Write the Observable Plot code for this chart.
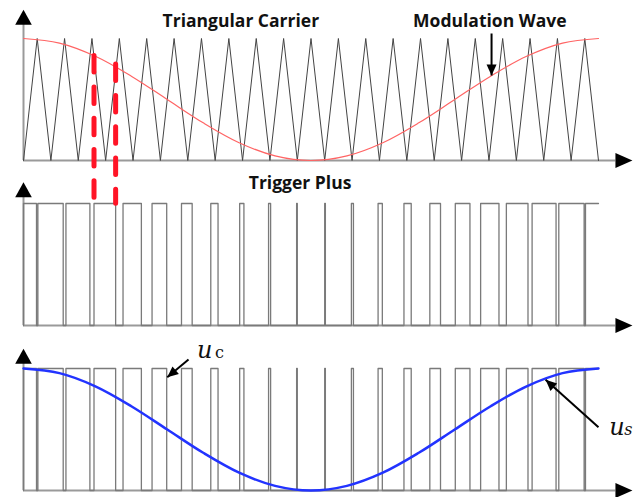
<!DOCTYPE html>
<html><head><meta charset="utf-8">
<script src="https://cdn.jsdelivr.net/npm/d3@7"></script>
<script src="https://cdn.jsdelivr.net/npm/@observablehq/plot@0.6"></script>
<style>
html,body{margin:0;padding:0;background:#fff;}
#wrap{position:relative;width:633px;height:497px;overflow:hidden;background:#fff;}
#wrap svg{position:absolute;left:0;overflow:visible;}
</style></head><body><div id="wrap"></div>
<script>
// ---------- data ----------
// triangular carrier: 21 periods, vertex levels (valley 0, peak 1)
const carrier = [0,1,0,1,0,1,0,1,0,1,0,1,0,1,0,1,0,1,0,1,0,1,0,1,0,1,0,1,0,1,0,1,0,1,0,1,0,1,0,1,0,1,0];
// modulation wave samples (normalised 0..1), one per 1/16 of the span
const modT = [0,0.0625,0.125,0.1875,0.25,0.3125,0.375,0.4375,0.5,0.5625,0.625,0.6875,0.75,0.8125,0.875,0.9375,1];
const modulation = [1,0.962,0.854,0.691,0.5,0.309,0.146,0.038,0,0.038,0.146,0.309,0.5,0.691,0.854,0.962,1];
// trigger pulses: fraction of each carrier period that is OFF (gap centred on carrier peak)
const gapFraction = [0.05,0.1,0.15,0.27,0.39,0.54,0.68,0.79,0.9,0.95,1,0.95,0.9,0.79,0.68,0.54,0.39,0.27,0.15,0.1,0.05];
// red dashed markers: one pulse (end of gap 2 .. start of gap 3), top meets modulation wave
const dashPeriods = [2, 3];
const dashTop = [0.86, 0.79];
const titles = ["Triangular Carrier", "Modulation Wave", "Trigger Plus"];
const symbolsU = ["u", "c", "u", "s"];

// ---------- derived tables ----------
const carrierPts = carrier.map((v, i) => ({t: i / (carrier.length - 1), v}));
const modPts = modT.map((t, i) => ({t, v: modulation[i]}));
const nP = gapFraction.length;
const pulsePts = [{t: 0, v: 0}, {t: 0, v: 1}];
gapFraction.forEach((g, k) => {
  const c = (k + 0.5) / nP, h = g / 2 / nP;
  pulsePts.push({t: c - h, v: 1}, {t: c - h, v: 0}, {t: c + h, v: 0}, {t: c + h, v: 1});
});
pulsePts.push({t: 1, v: 1});
const dashData = dashPeriods.map((k, i) => ({
  t: i === 0 ? (k + 0.5 + gapFraction[k] / 2) / nP : (k + 0.5 - gapFraction[k] / 2) / nP,
  top: dashTop[i], bottom: -0.35
}));

// ---------- helpers ----------
const PX = 575, PY = 122; // pixels per unit on x and y
function tri(angleDeg, len, halfW) {
  const a = angleDeg * Math.PI / 180, ux = Math.sin(a), uy = -Math.cos(a);
  const px = -uy, py = ux;
  return {draw(ctx) {
    ctx.moveTo(0, 0);
    ctx.lineTo(-ux * len + px * halfW, -uy * len + py * halfW);
    ctx.lineTo(-ux * len - px * halfW, -uy * len - py * halfW);
    ctx.closePath();
  }};
}
function axes(yTip) {
  return [
    Plot.ruleY([0], {x1: 0, x2: 1.03, stroke: "#9a9a9a", strokeWidth: 2}),
    Plot.ruleX([0], {y1: 0, y2: yTip - 14 / PY, stroke: "#9a9a9a", strokeWidth: 2}),
    Plot.dot([{x: 0, y: yTip}], {x: "x", y: "y", symbol: tri(0, 15, 8.3), fill: "black", stroke: null}),
    Plot.dot([{x: 1.059, y: 0}], {x: "x", y: "y", symbol: tri(90, 17, 7.5), fill: "black", stroke: null})
  ];
}
function pointer(x1, y1, x2, y2) {
  const dx = (x2 - x1) * PX, dy = -(y2 - y1) * PY;
  const ang = Math.atan2(dx, -dy) * 180 / Math.PI;
  return [
    Plot.link([{x1, y1, x2, y2}], {x1: "x1", y1: "y1", x2: "x2", y2: "y2", stroke: "black", strokeWidth: 2}),
    Plot.dot([{x: x2, y: y2}], {x: "x", y: "y", symbol: tri(ang, 11, 5), fill: "black", stroke: null})
  ];
}
const wrap = document.getElementById("wrap");
function panel(marks, top, height, z) {
  const svg = Plot.plot({
    width: 633, height,
    marginLeft: 23, marginRight: 35, marginTop: 38, marginBottom: height - 160,
    x: {domain: [0, 1], axis: null},
    y: {domain: [0, 1], axis: null},
    style: {background: "transparent", overflow: "visible"},
    marks
  });
  svg.style.top = top + "px";
  svg.style.zIndex = z;
  wrap.appendChild(svg);
}
const titleFont = {fontFamily: "Open Sans", fontWeight: "bold", fontSize: 17.5, fill: "#111"};
const mathFont = {fontFamily: "DejaVu Serif", fill: "#111"};

// ---------- panel 1: carrier + modulation ----------
panel([
  ...axes(1.235),
  Plot.line(carrierPts, {x: "t", y: "v", stroke: "#444", strokeWidth: 1}),
  Plot.line(modPts, {x: "t", y: "v", curve: "catmull-rom", stroke: "#ff6464", strokeWidth: 1.2}),
  Plot.text([titles[0]], {x: 0.378, y: 1.137, text: d => d, ...titleFont}),
  Plot.text([titles[1]], {x: 0.811, y: 1.144, text: d => d, ...titleFont}),
  ...pointer(0.814, 1.041, 0.814, 0.697),
  Plot.link(dashData, {x1: "t", x2: "t", y1: "top", y2: "bottom", stroke: "#ff1426", strokeWidth: 5,
    strokeDasharray: "16.5,14.8", strokeLinecap: "round"})
], 0, 165, 3);

// ---------- panel 2: trigger pulses ----------
panel([
  ...axes(1.175),
  Plot.line(pulsePts, {x: "t", y: "v", stroke: "#7a7a7a", strokeWidth: 1.3}),
  Plot.text([titles[2]], {x: 0.481, y: 1.161, text: d => d, ...titleFont})
], 165, 165, 2);

// ---------- panel 3: pulses + filtered output ----------
panel([
  ...axes(1.161),
  Plot.line(pulsePts, {x: "t", y: "v", stroke: "#7a7a7a", strokeWidth: 1.3}),
  Plot.line(modPts, {x: "t", y: "v", curve: "catmull-rom", stroke: "#2233ff", strokeWidth: 2.5}),
  ...pointer(0.287, 1.074, 0.25, 0.928),
  ...pointer(1.0, 0.519, 0.908, 0.907),
  Plot.text([symbolsU[0]], {x: 0.315, y: 1.153, text: d => d, fontStyle: "italic", fontSize: 24, ...mathFont}),
  Plot.text([symbolsU[1]], {x: 0.341, y: 1.132, text: d => d, fontSize: 16, ...mathFont}),
  Plot.text([symbolsU[2]], {x: 1.032, y: 0.514, text: d => d, fontStyle: "italic", fontSize: 24, ...mathFont}),
  Plot.text([symbolsU[3]], {x: 1.052, y: 0.493, text: d => d, fontStyle: "italic", fontSize: 16, ...mathFont})
], 330, 167, 1);
</script></body></html>
